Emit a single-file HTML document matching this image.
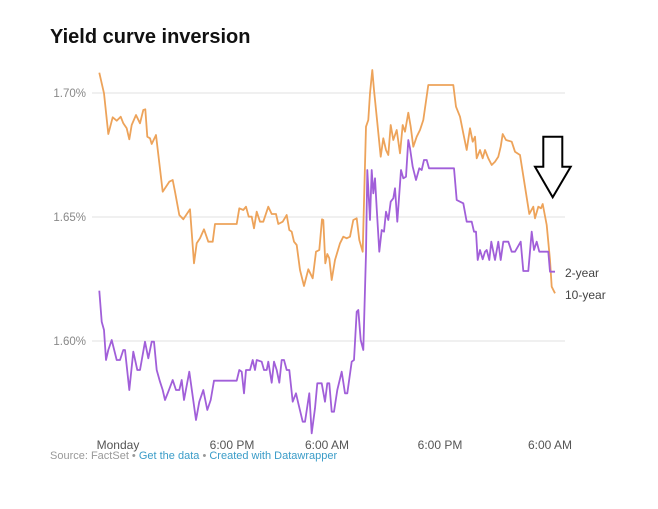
<!DOCTYPE html><html><head><style>
body{margin:0;width:658px;height:504px;background:#fff;font-family:"Liberation Sans",sans-serif;overflow:hidden}
</style></head><body>
<svg width="658" height="504" xmlns="http://www.w3.org/2000/svg" font-family="Liberation Sans, sans-serif">
<text x="50" y="43" font-size="20" font-weight="bold" fill="#111">Yield curve inversion</text>
<g stroke="#e2e2e2" stroke-width="1">
<line x1="92" y1="93" x2="565" y2="93"/><line x1="92" y1="217" x2="565" y2="217"/><line x1="92" y1="341" x2="565" y2="341"/>
</g>
<g font-size="11.5" fill="#888" text-anchor="end">
<text x="86" y="97">1.70%</text><text x="86" y="221">1.65%</text><text x="86" y="345">1.60%</text>
</g>
<g font-size="12" fill="#555" text-anchor="middle">
<text x="118" y="449">Monday</text><text x="232" y="449">6:00 PM</text><text x="327" y="449">6:00 AM</text><text x="440" y="449">6:00 PM</text><text x="550" y="449">6:00 AM</text>
</g>
<polyline id="o" fill="none" stroke="#eda35a" stroke-width="1.8" stroke-linejoin="round"/>
<polyline id="p" fill="none" stroke="#a15fd9" stroke-width="1.8" stroke-linejoin="round"/>
<g font-size="12" fill="#444"><text x="565" y="277">2-year</text><text x="565" y="299">10-year</text></g>
<polygon points="543.3,136.7 562.3,136.7 562.3,166.7 570.7,166.7 552.7,197.3 535,166.7 543.3,166.7" fill="none" stroke="#000" stroke-width="2"/>
<text x="50" y="459" font-size="11" fill="#999">Source: FactSet • <tspan fill="#3a9cc8">Get the data</tspan> • <tspan fill="#3a9cc8">Created with Datawrapper</tspan></text>
</svg>
<script>
function c(a,ox,maxx){var s=[];for(var i=0;i<a.length;i+=2){var x=ox+a[i]/3;if(maxx&&x>maxx)continue;s.push(x.toFixed(1)+","+(60+a[i+1]/3).toFixed(1));}return s;}
var o1=[28,38,42,100,55,222,68,172,80,182,92,170,100,190,110,205,118,238,125,195,138,165,150,190,160,150,166,148,172,230,180,235,185,252,198,225,218,395,238,365,248,360,255,395,268,465,280,478,300,448,312,610,320,550,330,535,342,508,355,545,368,545,375,492,440,492,448,445,460,450,468,440,476,470,485,470,492,505,500,455,510,485,520,485,535,440,545,462,558,462,565,492,578,485,590,465,598,510,605,515,612,545,620,555,630,630,642,678,655,628,668,655,678,575,688,570,696,478,700,480,706,610,712,582,718,595,725,662,730,615,740,610,750,578];
var o2=[5,660,15,600,30,550,40,530,50,535,60,530,70,480,80,475,88,540,98,575,108,200,115,180,120,100,127,30,132,90,140,170,152,290,160,235,168,270,175,285,182,195,190,240,200,210,210,280,218,195,225,215,235,158,242,200,250,260,260,230,270,210,280,180,295,75,370,75,378,140,390,170,400,220,410,270,420,205,428,245,435,230,440,295,450,270,458,295,465,270,475,295,485,315,495,305,505,290,512,260,518,222,528,240,545,245,555,275,570,285,585,380,598,462,610,440,615,475,625,440,633,445,638,432,650,495,660,600,665,680,675,700];
var p1=[28,692,35,785,42,810,48,900,55,870,65,840,80,900,90,900,100,870,105,870,118,990,130,875,142,930,150,930,165,845,175,895,185,845,192,845,200,930,210,965,218,990,225,1020,235,995,248,960,258,990,268,990,275,960,282,1020,298,935,318,1080,328,1025,340,990,352,1050,362,1020,372,962,440,962,448,930,455,935,462,1000,468,930,480,930,488,900,495,930,500,900,515,905,522,930,530,930,535,905,545,968,552,905,560,930,568,968,575,900,582,900,590,930,598,930,608,1025,618,1000,625,1030,638,1085,645,1085,658,1000,665,1120,675,1045,682,970,695,970,705,1025,712,970,718,970,725,1060,732,1030,740,1060,750,965];
var p2=[5,1055,12,1055,22,990,35,935,45,1000,52,1000,65,905,72,900,80,755,85,750,92,840,100,870,108,580,112,330,120,480,125,330,130,400,135,355,140,445,148,575,155,510,162,515,168,455,175,480,182,425,190,415,195,385,202,485,213,330,220,355,228,350,235,240,240,265,248,320,258,360,268,325,275,330,282,300,290,300,297,325,372,325,380,420,390,425,400,430,410,485,425,485,432,515,438,515,443,600,450,570,458,598,465,575,470,570,478,600,484,545,490,575,495,600,505,545,512,600,520,545,535,545,545,575,555,575,572,545,580,633,595,633,605,515,612,570,620,545,628,575,655,575,660,635,675,635];
document.getElementById('o').setAttribute('points',c(o1,90,331).concat(c(o2,330)).join(' '));
document.getElementById('p').setAttribute('points',c(p1,90,331).concat(c(p2,330)).join(' '));
</script>
</body></html>
